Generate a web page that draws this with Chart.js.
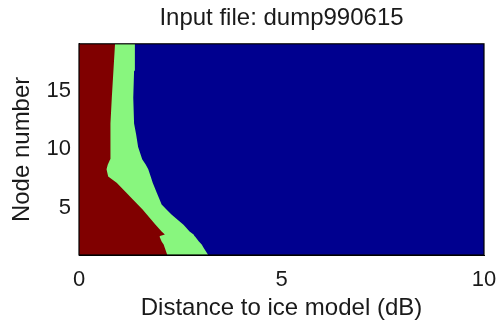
<!DOCTYPE html>
<html>
<head>
<meta charset="utf-8">
<script src="https://cdn.jsdelivr.net/npm/chart.js@4/dist/chart.umd.min.js"></script>
<style>
  html, body { margin: 0; padding: 0; background: #ffffff; }
  #wrap { width: 496px; height: 327px; }
</style>
</head>
<body>
<div id="wrap"><canvas id="c" width="496" height="327"></canvas></div>
<script>
// Node positions (y) at which the region boundaries were read
const nodes = [1, 1.6, 1.9, 2.16, 2.55, 2.62, 2.74, 3.0, 3.58, 4.44, 4.87, 5.3, 5.72, 6.3, 7.15, 7.7, 8.3, 8.7, 9.15, 10.2, 11.3, 12.2, 14.4, 16.7, 19];
// Boundary of the dark red region (dB)
const redEdge = [2.18, 2.12, 2.09, 2.04, 1.99, 2.00, 2.12, 2.04, 1.89, 1.68, 1.57, 1.45, 1.33, 1.17, 0.93, 0.72, 0.68, 0.71, 0.77, 0.77, 0.78, 0.78, 0.81, 0.85, 0.89];
// Boundary of the light green region (dB)
const greenEdge = [3.19, 3.08, 3.03, 2.96, 2.87, 2.85, 2.83, 2.73, 2.58, 2.29, 2.16, 2.04, 1.99, 1.92, 1.82, 1.77, 1.71, 1.65, 1.56, 1.46, 1.41, 1.36, 1.34, 1.36, 1.38];
// Blue region spans to the right end of the axis
const blueNodes = [1, 19];
const blueEdge = [10, 10];

const xTicks = [0, 5, 10];
const yTicks = [5, 10, 15];
const titleText = 'Input file: dump990615';
const xTitle = 'Distance to ice model (dB)';
const yTitle = 'Node number';

const FONT = '"Liberation Sans", Arial, Helvetica, sans-serif';
const TXT = '#1a1a1a';

function pts(xs, ys) { return ys.map((y, i) => ({ x: xs[i], y: y })); }

const frame = {
  id: 'frame',
  afterDatasetsDraw(chart) {
    const a = chart.chartArea, ctx = chart.ctx;
    ctx.save();
    ctx.strokeStyle = '#000';
    ctx.lineWidth = 1.2;
    ctx.strokeRect(a.left, a.top, a.right - a.left, a.bottom - a.top);
    ctx.restore();
  }
};

new Chart(document.getElementById('c'), {
  type: 'line',
  data: {
    datasets: [
      { label: 'red', data: pts(redEdge, nodes), backgroundColor: '#800000', borderWidth: 0, pointRadius: 0, fill: 'origin', tension: 0 },
      { label: 'green', data: pts(greenEdge, nodes), backgroundColor: '#88f67e', borderWidth: 0, pointRadius: 0, fill: 'origin', tension: 0 },
      { label: 'blue', data: pts(blueEdge, blueNodes), backgroundColor: '#00008f', borderWidth: 0, pointRadius: 0, fill: 'origin', tension: 0 }
    ]
  },
  options: {
    indexAxis: 'y',
    responsive: false,
    animation: false,
    layout: { padding: { left: 0, right: 0, top: 0, bottom: 0 } },
    plugins: {
      legend: { display: false },
      tooltip: { enabled: false },
      title: {
        display: true,
        fullSize: false,
        text: titleText,
        color: TXT,
        font: { family: FONT, size: 24, weight: 'normal', lineHeight: 1.2 },
        padding: { top: 4, bottom: 11 }
      }
    },
    scales: {
      x: {
        type: 'linear',
        min: 0, max: 10,
        afterBuildTicks: (s) => { s.ticks = xTicks.map(v => ({ value: v })); },
        afterFit: (s) => { s.height = 72; s.paddingRight = 12; },
        grid: { display: false, drawTicks: false },
        border: { display: true, color: '#000', width: 1 },
        ticks: { color: TXT, padding: 12, maxRotation: 0, font: { family: FONT, size: 22 } },
        title: { display: true, text: xTitle, color: TXT, font: { family: FONT, size: 24 }, padding: { top: 0, bottom: 4 } }
      },
      y: {
        type: 'linear',
        min: 1, max: 19,
        afterBuildTicks: (s) => { s.ticks = yTicks.map(v => ({ value: v })); },
        afterFit: (s) => { s.width = 79; },
        grid: { display: false, drawTicks: false },
        border: { display: true, color: '#000', width: 1 },
        ticks: { color: TXT, padding: 8, font: { family: FONT, size: 22 } },
        title: { display: true, text: yTitle, color: TXT, font: { family: FONT, size: 24 }, padding: { top: 8, bottom: 0 } }
      }
    }
  },
  plugins: [frame]
});
</script>
</body>
</html>
